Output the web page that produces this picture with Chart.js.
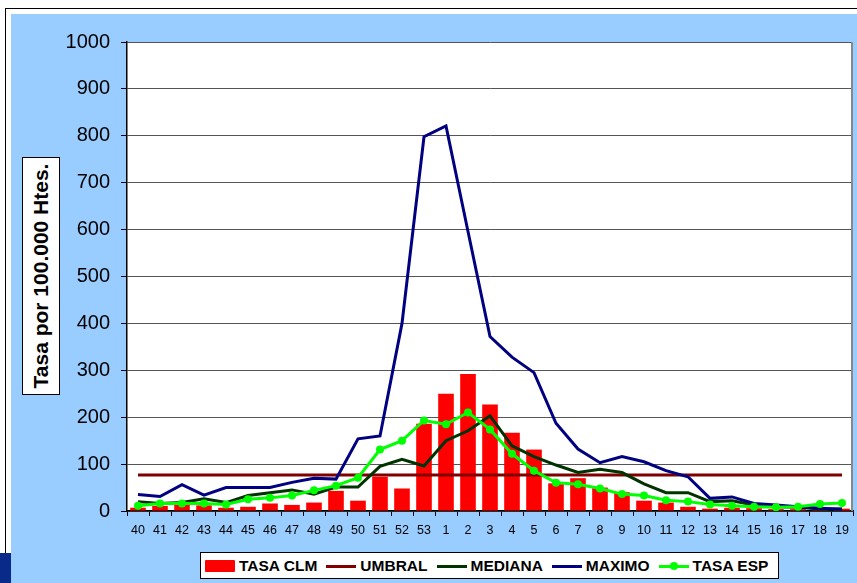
<!DOCTYPE html>
<html><head><meta charset="utf-8">
<script src="https://cdn.jsdelivr.net/npm/chart.js@4/dist/chart.umd.min.js"></script>
<style>
html,body{margin:0;padding:0;width:857px;height:583px;overflow:hidden;background:#fff;font-family:"Liberation Sans",Arial,sans-serif;}
#frame{position:absolute;left:5px;top:8px;width:900px;height:700px;border-left:1.5px solid #000;border-top:1.5px solid #000;background:#fff;}
#blue{position:absolute;left:11px;top:14px;width:846px;height:569px;background:#99CCFF;}
#corner{position:absolute;left:0;top:553px;width:11px;height:30px;background:#0a2a8a;}
#c{position:absolute;left:0;top:0;}
#ytitle{position:absolute;left:22px;top:157px;width:36px;height:236px;background:#fff;border:1px solid #000;}
#ytitle span{position:absolute;left:50%;top:50%;transform:translate(-50%,-50%) rotate(-90deg);white-space:nowrap;font-weight:bold;font-size:21px;color:#000;}
#legend{position:absolute;left:200px;top:552px;height:27px;width:579px;background:#fff;border:1px solid #000;display:flex;align-items:center;padding-left:4px;box-sizing:border-box;}
.item{display:flex;align-items:center;margin-right:9px;}
.mk{position:relative;width:30px;height:12px;margin-right:4px;}
.txt{font-weight:bold;font-size:15.5px;color:#000;white-space:nowrap;}
</style></head>
<body>
<div id="frame"></div>
<div id="blue"></div>
<div id="corner"></div>
<canvas id="c" width="857" height="583"></canvas>
<div id="ytitle"><span>Tasa por 100.000 Htes.</span></div>
<div id="legend"></div>
<script>
const categories = ['40','41','42','43','44','45','46','47','48','49','50','51','52','53','1','2','3','4','5','6','7','8','9','10','11','12','13','14','15','16','17','18','19'];
const tasaClm = [7,11,13,12,7,9,16,13,18,43,22,73,48,186,250,292,227,167,131,59,70,50,40,22,18,9,5,7,6,4,4,4,5];
const umbral  = [77,77,77,77,77,77,77,77,77,77,77,77,77,77,77,77,77,77,77,77,77,77,77,77,77,77,77,77,77,77,77,77,77];
const mediana = [20,16,18,26,18,33,39,45,36,51,51,95,110,96,150,171,203,139,116,98,82,89,82,58,39,39,20,22,13,9,8,4,4];
const maximo  = [35,31,56,34,50,50,50,61,70,68,154,160,400,798,821,596,372,328,295,187,132,103,116,105,86,73,27,30,16,13,9,6,4];
const tasaEsp = [11,16,16,16,14,25,28,33,44,54,71,131,150,193,185,210,174,122,86,60,57,48,36,33,23,20,14,11,9,8,9,15,17];
const yTickLabels = ['0','100','200','300','400','500','600','700','800','900','1000'];

Chart.defaults.font.family = '"Liberation Sans", Arial, sans-serif';
Chart.defaults.color = '#000';

const plotDeco = {
  id: 'plotDeco',
  beforeDraw(chart) {
    const {ctx, chartArea: a} = chart;
    ctx.save();
    ctx.fillStyle = '#fff';
    ctx.fillRect(a.left, a.top, a.right - a.left, a.bottom - a.top);
    ctx.restore();
  },
  beforeDatasetsDraw(chart) {
    const {ctx, chartArea: a} = chart;
    ctx.save();
    ctx.strokeStyle = '#888';
    ctx.lineWidth = 2;
    ctx.beginPath();
    ctx.moveTo(a.right - 1, a.top);
    ctx.lineTo(a.right - 1, a.bottom);
    ctx.stroke();
    ctx.restore();
  }
};

const datasets = [
  {type:'bar', label:'TASA CLM', data:tasaClm, backgroundColor:'#FF0000', borderWidth:0, barPercentage:0.71, categoryPercentage:1, order:5},
  {type:'line', label:'UMBRAL', data:umbral, borderColor:'#800000', borderWidth:3, pointRadius:0, tension:0, order:4},
  {type:'line', label:'MEDIANA', data:mediana, borderColor:'#003300', borderWidth:3, pointRadius:0, tension:0, order:3},
  {type:'line', label:'MAXIMO', data:maximo, borderColor:'#000080', borderWidth:3, pointRadius:0, tension:0, order:2},
  {type:'line', label:'TASA ESP', data:tasaEsp, borderColor:'#00FF00', backgroundColor:'#00FF00', borderWidth:3, pointRadius:4, pointBackgroundColor:'#00FF00', pointBorderWidth:0, tension:0, order:1}
];

new Chart(document.getElementById('c'), {
  type: 'bar',
  data: {labels: categories, datasets},
  plugins: [plotDeco],
  options: {
    responsive: false,
    animation: false,
    layout: {padding: {left: 0, top: 42, right: 4, bottom: 42}},
    plugins: {legend: {display: false}, tooltip: {enabled: false}},
    scales: {
      x: {
        offset: true,
        grid: {display: true, drawOnChartArea: false, drawTicks: true, tickLength: 5, tickColor: '#000', offset: true},
        border: {color: '#000', width: 1.5},
        ticks: {font: {size: 12.5}, padding: 7, maxRotation: 0, autoSkip: false},
        afterFit(s) { s.height = 30; }
      },
      y: {
        min: 0, max: 1000,
        grid: {color: '#555', lineWidth: 1, tickLength: 6, tickColor: '#000'},
        border: {color: '#000', width: 1.5},
        ticks: {stepSize: 100, font: {size: 20}, padding: 11, callback: (v, i) => yTickLabels[i]},
        afterFit(s) { s.width = 127; }
      }
    }
  }
});

// HTML legend built from the datasets
const leg = document.getElementById('legend');
datasets.forEach(ds => {
  const it = document.createElement('div'); it.className = 'item';
  const mk = document.createElement('div'); mk.className = 'mk';
  if (ds.type === 'bar') {
    mk.style.background = ds.backgroundColor; mk.style.borderRadius = '1px';
  } else {
    const ln = document.createElement('div');
    ln.style.cssText = 'position:absolute;left:0;right:0;top:5px;height:3px;background:' + ds.borderColor;
    mk.appendChild(ln);
    if (ds.pointRadius) {
      const dot = document.createElement('div');
      dot.style.cssText = 'position:absolute;left:11px;top:2.5px;width:8px;height:8px;border-radius:50%;background:' + ds.borderColor;
      mk.appendChild(dot);
    }
  }
  const tx = document.createElement('span'); tx.className = 'txt'; tx.textContent = ds.label;
  it.appendChild(mk); it.appendChild(tx); leg.appendChild(it);
});
</script>
</body></html>
